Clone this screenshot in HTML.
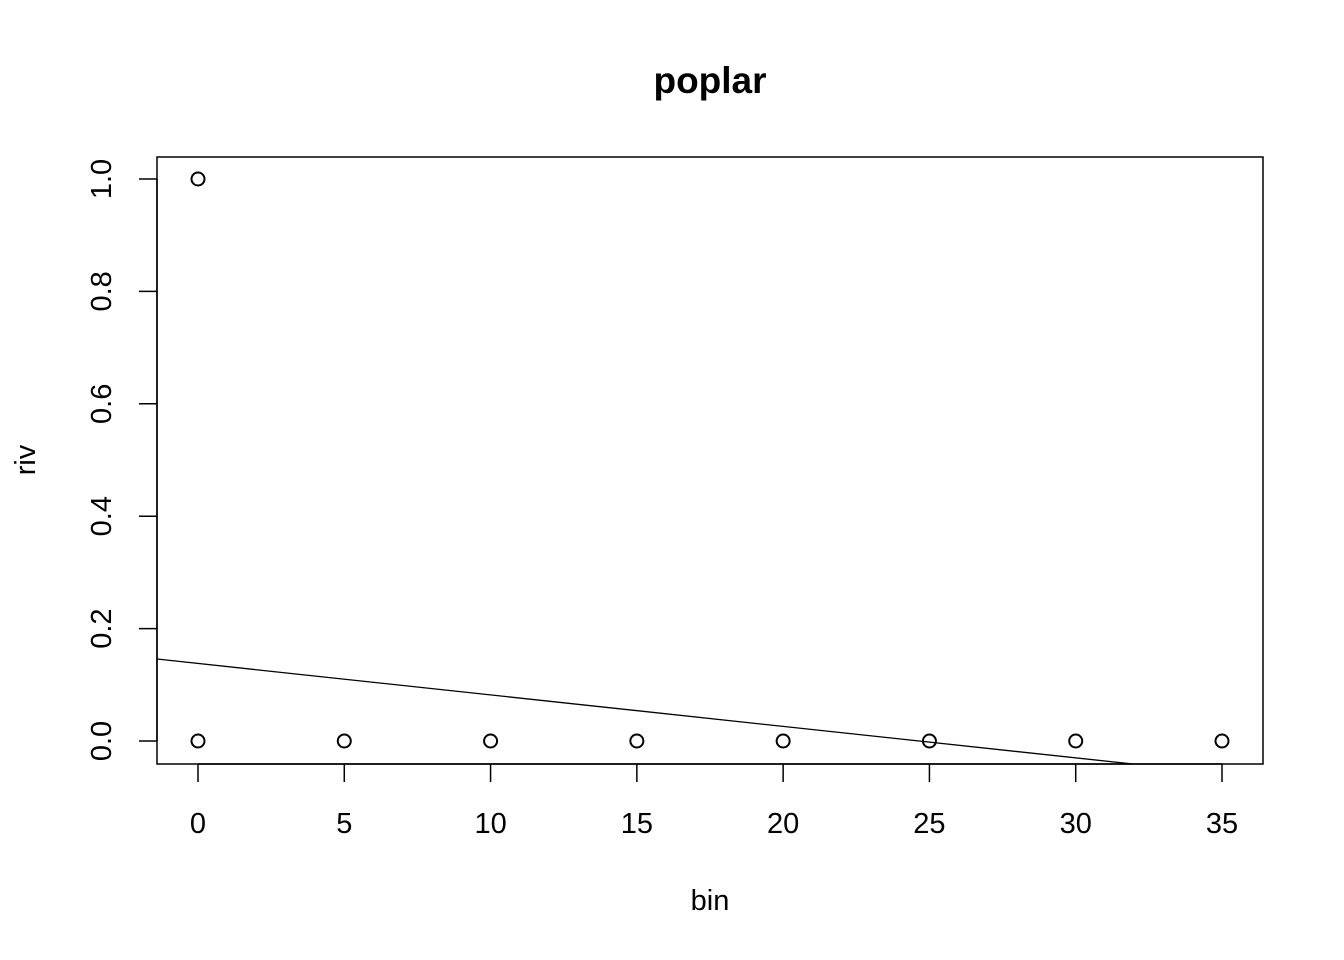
<!DOCTYPE html>
<html><head><meta charset="utf-8"><style>
html,body{margin:0;padding:0;background:#fff;}
svg{display:block;font-family:"Liberation Sans",Arial,sans-serif;}
</style></head><body>
<svg id="chart" width="1344" height="960">
<defs><clipPath id="clip"><rect x="157" y="157" width="1106" height="607"/></clipPath></defs>
<text x="710" y="93" text-anchor="middle" font-size="37" font-weight="bold">poplar</text>
<rect x="157" y="157" width="1106" height="607" fill="none" stroke="#000" stroke-width="1.5"/>
<text x="710" y="910" text-anchor="middle" font-size="29">bin</text>
<text transform="translate(35,460) rotate(-90)" text-anchor="middle" font-size="29">riv</text>
<g id="xaxis"></g>
<g id="yaxis"></g>
<g id="marks" clip-path="url(#clip)"></g>
<g id="points"></g>
</svg>
<script>
const xTicks = [0,5,10,15,20,25,30,35];
const yTicks = [0.0,0.2,0.4,0.6,0.8,1.0];
const yTickLabels = ["0.0","0.2","0.4","0.6","0.8","1.0"];
const pointX = [0,0,5,10,15,20,25,30,35];
const pointY = [1,0,0,0,0,0,0,0,0];
const fitIntercept = 0.138;
const fitSlope = -0.0056;

const NS = "http://www.w3.org/2000/svg";
function sx(v){ return 198 + v*(1222-198)/35; }
function sy(v){ return 741 - v*(741-179); }
function mk(tag, attrs, parent){
  const e = document.createElementNS(NS, tag);
  for (const k in attrs) e.setAttribute(k, attrs[k]);
  parent.appendChild(e); return e;
}
const xa = document.getElementById('xaxis');
mk('line',{x1:sx(xTicks[0]),x2:sx(xTicks[xTicks.length-1]),y1:764,y2:764,stroke:'#000','stroke-width':1.5},xa);
xTicks.forEach(t=>{
  const l = mk('line',{x1:sx(t),x2:sx(t),y1:764,y2:782,stroke:'#000','stroke-width':1.5},xa);
  
  
  const tx = mk('text',{x:sx(t),y:833,'text-anchor':'middle','font-size':29},xa);
  tx.textContent = t;
  
  
});
const ya = document.getElementById('yaxis');
mk('line',{x1:157,x2:157,y1:sy(yTicks[0]),y2:sy(yTicks[yTicks.length-1]),stroke:'#000','stroke-width':1.5},ya);
yTicks.forEach((t,i)=>{
  const l = mk('line',{x1:139,x2:157,y1:sy(t),y2:sy(t),stroke:'#000','stroke-width':1.5},ya);
  
  
  const tx = mk('text',{transform:`translate(111,${sy(t)}) rotate(-90)`,'text-anchor':'middle','font-size':29},ya);
  tx.textContent = yTickLabels[i];
  
  
});
const marks = document.getElementById('marks');
const x0 = -5, x1 = 40;
const fl = mk('line',{x1:sx(x0),y1:sy(fitIntercept+fitSlope*x0),x2:sx(x1),y2:sy(fitIntercept+fitSlope*x1),stroke:'#000','stroke-width':1.3},marks);


const pts = document.getElementById('points');
pointX.forEach((x,i)=>{
  const c = mk('circle',{cx:sx(x),cy:sy(pointY[i]),r:6.5,fill:'none',stroke:'#000','stroke-width':2},pts);
  
  
});
</script>
</body></html>
